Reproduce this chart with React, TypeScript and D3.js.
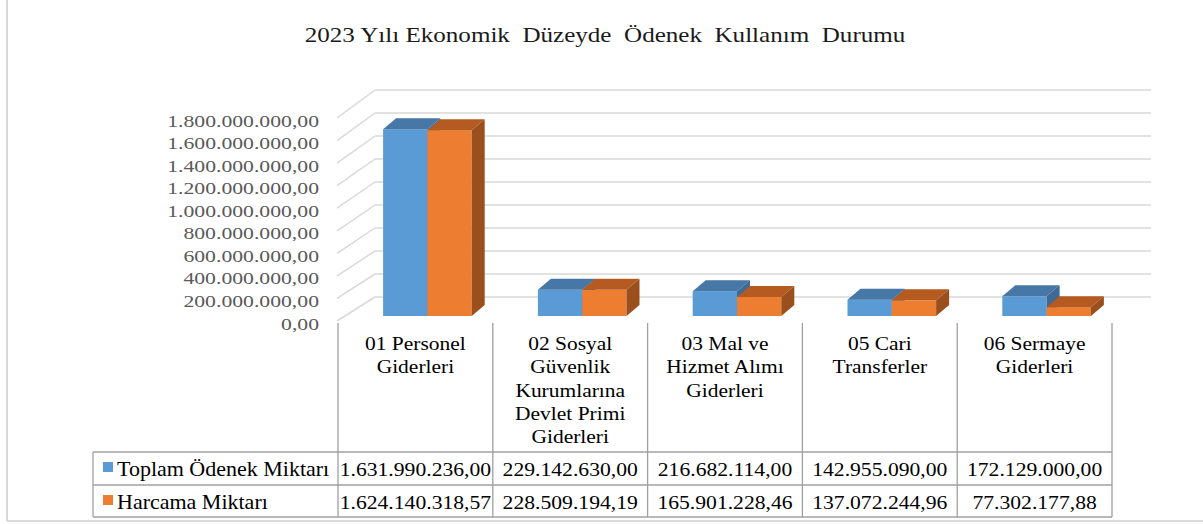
import React from 'react';
import * as d3 from 'd3';

const title = '2023 Yılı Ekonomik  Düzeyde  Ödenek  Kullanım  Durumu';

const categories = ['01', '02', '03', '05', '06'];
const categoryLines = [
  ['01 Personel', 'Giderleri'],
  ['02 Sosyal', 'Güvenlik', 'Kurumlarına', 'Devlet Primi', 'Giderleri'],
  ['03 Mal ve', 'Hizmet Alımı', 'Giderleri'],
  ['05 Cari', 'Transferler'],
  ['06 Sermaye', 'Giderleri'],
];

const seriesNames = ['Toplam Ödenek Miktarı', 'Harcama Miktarı'];
const toplam = [1631990236.0, 229142630.0, 216682114.0, 142955090.0, 172129000.0];
const harcama = [1624140318.57, 228509194.19, 165901228.46, 137072244.96, 77302177.88];
const seriesValues = [toplam, harcama];

const yTicks = d3.range(0, 1800000001, 200000000);

const W = 1203;
const H = 524;
const FONT = 'Liberation Serif, Times New Roman, serif';

const seriesFront = ['#5B9BD5', '#ED7D31'];
const seriesTop = ['#4677A6', '#B55B21'];
const seriesSide = ['#3E6A95', '#9A4F1C'];

const trFormat = d3.formatLocale({
  decimal: ',',
  thousands: '.',
  grouping: [3],
  currency: ['', ''],
}).format(',.2f');

// the source picture has its text a bit stretched horizontally
const T = ({ x, y, sx, size, anchor, fill, children }: any) => (
  <text
    transform={`translate(${x},${y}) scale(${sx},1)`}
    textAnchor={anchor || 'start'}
    fontFamily={FONT}
    fontSize={size}
    fill={fill || '#000'}
    style={{ whiteSpace: 'pre' }}
  >
    {children}
  </text>
);

export default function App() {
  // table columns double as the category axis
  const x = d3.scaleBand<string>().domain(categories).range([338, 1112]).padding(0);
  const inner = d3
    .scaleBand<number>()
    .domain([0, 1])
    .range([0, x.bandwidth()])
    .paddingInner(0)
    .paddingOuter(0.747);

  // wall front edge, back wall and bar plane (a bit of perspective)
  const yFront = d3.scaleLinear().domain([0, 1800000000]).range([321, 118]);
  const yBack = d3.scaleLinear().domain([0, 1800000000]).range([297, 90]);
  const yBar = d3.scaleLinear().domain([0, 1800000000]).range([316, 110]);

  const wallLeft = 337;
  const wallBack = 375;
  const wallRight = 1151;
  const barShift = 12;
  const depth = { dx: 13, dy: -11 };

  const tableTop = 323;
  const rowTops = [452, 485];
  const tableBottom = 517;
  const tableLeft = 93;

  const bars: React.ReactNode[] = [];
  categories.forEach((c, ci) => {
    seriesValues.forEach((vals, si) => {
      const x0 = (x(c) as number) + (inner(si) as number) + barShift;
      const x1 = x0 + inner.bandwidth();
      const y0 = yBar(0);
      const y1 = yBar(vals[ci]);
      const { dx, dy } = depth;
      bars.push(
        <g key={`${c}-${si}`}>
          <rect x={x0} y={y1} width={x1 - x0} height={y0 - y1} fill={seriesFront[si]} />
          <polygon
            points={`${x0},${y1} ${x0 + dx},${y1 + dy} ${x1 + dx},${y1 + dy} ${x1},${y1}`}
            fill={seriesTop[si]}
          />
          <polygon
            points={`${x1},${y1} ${x1 + dx},${y1 + dy} ${x1 + dx},${y0 + dy} ${x1},${y0}`}
            fill={seriesSide[si]}
          />
        </g>
      );
    });
  });

  return (
    <div style={{ position: 'absolute', left: 0, top: 0 }}>
      <svg width={W} height={H} style={{ display: 'block', background: '#fff' }}>
        {/* frame */}
        <line x1={7} y1={0} x2={7} y2={521} stroke="#d9d9d9" strokeWidth={2} />
        <line x1={7} y1={521} x2={W} y2={521} stroke="#d9d9d9" strokeWidth={2} />

        <T x={605} y={42} sx={1.14} size={22} anchor="middle" fill="#1a1a1a">
          {title}
        </T>

        {/* gridlines: side wall + back wall */}
        {yTicks.map((t) => (
          <g key={t}>
            <line x1={wallLeft} y1={yFront(t)} x2={wallBack} y2={yBack(t)} stroke="#d9d9d9" strokeWidth={1.5} />
            <line x1={wallBack} y1={yBack(t)} x2={wallRight} y2={yBack(t)} stroke="#d9d9d9" strokeWidth={1.5} />
            <T x={319} y={yFront(t) + 8.5} sx={1.24} size={17.5} anchor="end" fill="#595959">
              {trFormat(t)}
            </T>
          </g>
        ))}

        {bars}

        {/* data table */}
        <g stroke="#a0a0a0" strokeWidth={1.3}>
          {categories.map((c) => (
            <line key={c} x1={x(c)} y1={tableTop} x2={x(c)} y2={tableBottom} />
          ))}
          <line x1={x.range()[1]} y1={tableTop} x2={x.range()[1]} y2={tableBottom} />
          {[...rowTops, tableBottom].map((ry) => (
            <line key={ry} x1={tableLeft} y1={ry} x2={x.range()[1]} y2={ry} />
          ))}
          <line x1={tableLeft} y1={rowTops[0]} x2={tableLeft} y2={tableBottom} />
        </g>

        {categories.map((c, ci) =>
          categoryLines[ci].map((ln, li) => (
            <T
              key={`${c}-${li}`}
              x={(x(c) as number) + x.bandwidth() / 2}
              y={350 + li * 23.3}
              sx={1.13}
              size={19}
              anchor="middle"
            >
              {ln}
            </T>
          ))
        )}

        {seriesNames.map((name, si) => (
          <g key={name}>
            <rect x={103} y={rowTops[si] + 10} width={10} height={10} fill={seriesFront[si]} />
            <T x={117} y={rowTops[si] + 24} sx={1.1} size={20}>
              {name}
            </T>
            {categories.map((c, ci) => (
              <T
                key={c}
                x={(x(c) as number) + x.bandwidth() / 2}
                y={rowTops[si] + 24}
                sx={1.17}
                size={18.5}
                anchor="middle"
              >
                {trFormat(seriesValues[si][ci])}
              </T>
            ))}
          </g>
        ))}
      </svg>
    </div>
  );
}
